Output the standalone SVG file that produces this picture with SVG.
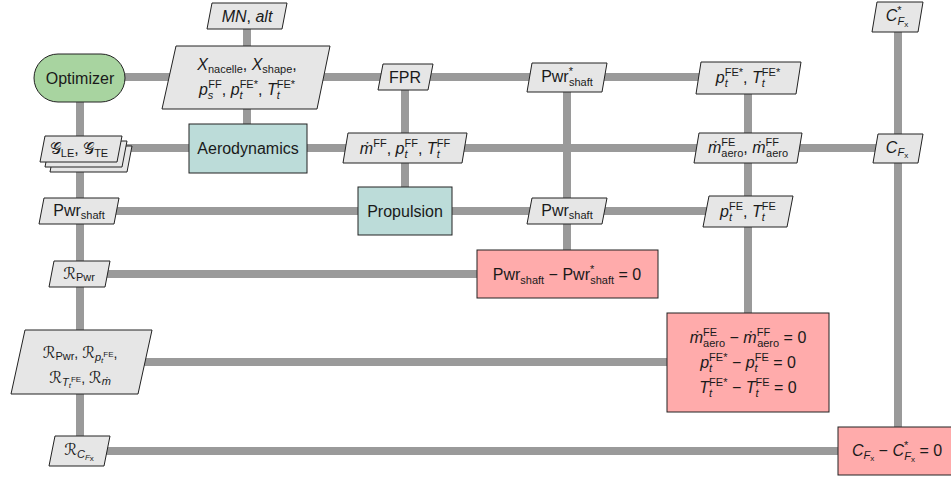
<svg xmlns="http://www.w3.org/2000/svg" width="951" height="477" viewBox="0 0 951 477">
<style>
.t{font-family:"Liberation Sans","DejaVu Sans",sans-serif;font-size:16px;fill:#1a1a1a;text-anchor:middle}
.m{font-size:14px}
.i{font-style:italic}
.sb{font-size:11px}
.ssb{font-size:8px}
.cal{font-family:"DejaVu Sans","Noto Sans",sans-serif;font-style:normal}
.m .cal{font-size:16px}
.data{fill:#e6e6e6;stroke:#222;stroke-width:1}
.opt{fill:#a8d4a0;stroke:#222;stroke-width:1}
.func{fill:#bcdcd9;stroke:#222;stroke-width:1}
.con{fill:#ffabab;stroke:#222;stroke-width:1}
.ln{stroke:#9a9a9a;stroke-width:8;fill:none}
</style>
<rect width="951" height="477" fill="#fff"/>
<g id="connectors">
<line class="ln" x1="80" y1="77" x2="748" y2="77"/>
<line class="ln" x1="80" y1="148" x2="898" y2="148"/>
<line class="ln" x1="80" y1="211" x2="748" y2="211"/>
<line class="ln" x1="80" y1="274" x2="567" y2="274"/>
<line class="ln" x1="80" y1="362" x2="748" y2="362"/>
<line class="ln" x1="80" y1="451" x2="898" y2="451"/>
<line class="ln" x1="80" y1="77" x2="80" y2="451"/>
<line class="ln" x1="247" y1="16" x2="247" y2="148"/>
<line class="ln" x1="405" y1="77" x2="405" y2="211"/>
<line class="ln" x1="567" y1="77" x2="567" y2="274"/>
<line class="ln" x1="748" y1="77" x2="748" y2="362"/>
<line class="ln" x1="898" y1="17" x2="898" y2="451"/>
</g>

<g id="optimizer">
<rect class="opt" x="34" y="54" width="91" height="48" rx="24" ry="24"/>
<text class="t" x="80" y="83.5">Optimizer</text>
</g>

<g id="input-mn-alt">
<polygon class="data" points="212,3 287,3 282,29 207,29"/>
<text class="t" x="247" y="21.5"><tspan class="i">MN</tspan>, <tspan class="i">alt</tspan></text>
</g>

<g id="input-cfx-star">
<polygon class="data" points="877,2 923,2 918,32 872,32"/>
<text class="t" x="897" y="21"><tspan class="i">C</tspan><tspan class="sb" dy="-7">*</tspan><tspan class="sb i" dx="-4" dy="11">F</tspan><tspan class="ssb" dy="2">x</tspan></text>
</g>

<g id="data-design-vars">
<polygon class="data" points="176,46 330,46 317,109 162,109"/>
<text class="t" x="247" y="70"><tspan class="i">X</tspan><tspan class="sb" dy="3">nacelle</tspan><tspan dy="-3">, </tspan><tspan class="i">X</tspan><tspan class="sb" dy="3">shape</tspan><tspan dy="-3">,</tspan></text>
<text class="t" x="247" y="95"><tspan class="i">p</tspan><tspan class="sb i" dy="4">s</tspan><tspan class="sb" dx="-5" dy="-11">FF</tspan><tspan dy="7">, </tspan><tspan class="i">p</tspan><tspan class="sb i" dy="4">t</tspan><tspan class="sb" dx="-3" dy="-11">FE*</tspan><tspan dy="7">, </tspan><tspan class="i">T</tspan><tspan class="sb i" dy="4">t</tspan><tspan class="sb" dx="-3" dy="-11">FE*</tspan></text>
</g>

<g id="data-fpr">
<polygon class="data" points="383,64 433,64 428,90 378,90"/>
<text class="t" x="405" y="83">FPR</text>
</g>

<g id="data-pwr-star">
<polygon class="data" points="532,63 607,63 602,92 527,92"/>
<text class="t" x="567" y="82"><tspan>Pwr</tspan><tspan class="sb" dy="-7">*</tspan><tspan class="sb" dx="-4" dy="11">shaft</tspan></text>
</g>

<g id="data-pt-tt-star">
<polygon class="data" points="701,62 801,62 796,94 696,94"/>
<text class="t" x="748" y="83"><tspan class="i">p</tspan><tspan class="sb i" dy="4">t</tspan><tspan class="sb" dx="-3" dy="-11">FE*</tspan><tspan dy="7">, </tspan><tspan class="i">T</tspan><tspan class="sb i" dy="4">t</tspan><tspan class="sb" dx="-3" dy="-11">FE*</tspan></text>
</g>

<g id="data-geometry-stack">
<polygon class="data" points="55,146 132,146 127,172 50,172"/>
<polygon class="data" points="50,141 127,141 122,167 45,167"/>
<polygon class="data" points="45,136 122,136 117,162 40,162"/>
<text class="t" x="79" y="154"><tspan class="cal">𝒢</tspan><tspan class="sb" dy="3">LE</tspan><tspan dy="-3">, </tspan><tspan class="cal">𝒢</tspan><tspan class="sb" dy="3">TE</tspan></text>
</g>

<g id="aerodynamics">
<rect class="func" x="189" y="124" width="118" height="49"/>
<text class="t" x="248" y="153.5">Aerodynamics</text>
</g>

<g id="data-ff-flow">
<polygon class="data" points="348,133 467,133 462,163 343,163"/>
<text class="t" x="405" y="154"><tspan class="i">ṁ</tspan><tspan class="sb" dy="-7">FF</tspan><tspan dy="7">, </tspan><tspan class="i">p</tspan><tspan class="sb i" dy="4">t</tspan><tspan class="sb" dx="-3" dy="-11">FF</tspan><tspan dy="7">, </tspan><tspan class="i">T</tspan><tspan class="sb i" dy="4">t</tspan><tspan class="sb" dx="-3" dy="-11">FF</tspan></text>
</g>

<g id="data-mdot-aero">
<polygon class="data" points="699,133 802,133 797,163 694,163"/>
<text class="t" x="748" y="153"><tspan class="i">ṁ</tspan><tspan class="sb" dy="-7">FE</tspan><tspan class="sb" dx="-14" dy="11">aero</tspan><tspan dy="-4">, </tspan><tspan class="i">ṁ</tspan><tspan class="sb" dy="-7">FF</tspan><tspan class="sb" dx="-13" dy="11">aero</tspan></text>
</g>

<g id="data-cfx">
<polygon class="data" points="878,134 923,134 918,163 873,163"/>
<text class="t" x="897" y="153"><tspan class="i">C</tspan><tspan class="sb i" dy="3">F</tspan><tspan class="ssb" dy="2">x</tspan></text>
</g>

<g id="data-pwr-shaft-opt">
<polygon class="data" points="44,198 119,198 114,224 39,224"/>
<text class="t" x="79" y="216"><tspan>Pwr</tspan><tspan class="sb" dy="3">shaft</tspan></text>
</g>

<g id="propulsion">
<rect class="func" x="358" y="187" width="94" height="48"/>
<text class="t" x="405" y="216.5">Propulsion</text>
</g>

<g id="data-pwr-shaft-prop">
<polygon class="data" points="532,198 607,198 602,224 527,224"/>
<text class="t" x="567" y="216"><tspan>Pwr</tspan><tspan class="sb" dy="3">shaft</tspan></text>
</g>

<g id="data-pt-tt">
<polygon class="data" points="709,196 793,196 787,227 703,227"/>
<text class="t" x="748" y="217"><tspan class="i">p</tspan><tspan class="sb i" dy="4">t</tspan><tspan class="sb" dx="-3" dy="-11">FE</tspan><tspan dy="7">, </tspan><tspan class="i">T</tspan><tspan class="sb i" dy="4">t</tspan><tspan class="sb" dx="-3" dy="-11">FE</tspan></text>
</g>

<g id="data-r-pwr">
<polygon class="data" points="54,261 110,261 105,287 49,287"/>
<text class="t m" x="79" y="279"><tspan class="cal">ℛ</tspan><tspan class="sb" dy="2">Pwr</tspan></text>
</g>

<g id="constraint-pwr">
<rect class="con" x="477" y="250" width="181" height="48"/>
<text class="t" x="567" y="279.5"><tspan>Pwr</tspan><tspan class="sb" dy="4">shaft</tspan><tspan dy="-4"> − Pwr</tspan><tspan class="sb" dy="-7">*</tspan><tspan class="sb" dx="-4" dy="11">shaft</tspan><tspan dy="-4"> = 0</tspan></text>
</g>

<g id="data-residuals">
<polygon class="data" points="25,330 152,330 138,394 11,394"/>
<text class="t m" x="80" y="358"><tspan class="cal">ℛ</tspan><tspan class="sb" dy="2">Pwr</tspan><tspan dy="-2">, </tspan><tspan class="cal">ℛ</tspan><tspan class="sb i" dy="3">p</tspan><tspan class="ssb i" dy="2">t</tspan><tspan class="ssb" dy="-6">FE</tspan><tspan dy="1">,</tspan></text>
<text class="t m" x="80" y="383"><tspan class="cal">ℛ</tspan><tspan class="sb i" dy="3">T</tspan><tspan class="ssb i" dy="2">t</tspan><tspan class="ssb" dy="-6">FE</tspan><tspan dy="1">, </tspan><tspan class="cal">ℛ</tspan><tspan class="sb i" dy="2">ṁ</tspan></text>
</g>

<g id="constraint-flow">
<rect class="con" x="667" y="313" width="162" height="99"/>
<text class="t" x="748" y="343"><tspan class="i">ṁ</tspan><tspan class="sb" dy="-7">FE</tspan><tspan class="sb" dx="-14" dy="11">aero</tspan><tspan dy="-4"> − </tspan><tspan class="i">ṁ</tspan><tspan class="sb" dy="-7">FF</tspan><tspan class="sb" dx="-13" dy="11">aero</tspan><tspan dy="-4"> = 0</tspan></text>
<text class="t" x="748" y="368"><tspan class="i">p</tspan><tspan class="sb i" dy="4">t</tspan><tspan class="sb" dx="-3" dy="-11">FE*</tspan><tspan dy="7"> − </tspan><tspan class="i">p</tspan><tspan class="sb i" dy="4">t</tspan><tspan class="sb" dx="-3" dy="-11">FE</tspan><tspan dy="7"> = 0</tspan></text>
<text class="t" x="748" y="393"><tspan class="i">T</tspan><tspan class="sb i" dy="4">t</tspan><tspan class="sb" dx="-3" dy="-11">FE*</tspan><tspan dy="7"> − </tspan><tspan class="i">T</tspan><tspan class="sb i" dy="4">t</tspan><tspan class="sb" dx="-3" dy="-11">FE</tspan><tspan dy="7"> = 0</tspan></text>
</g>

<g id="data-r-cfx">
<polygon class="data" points="55,436 110,436 104,466 49,466"/>
<text class="t m" x="79" y="455"><tspan class="cal">ℛ</tspan><tspan class="sb i" dy="3">C</tspan><tspan class="ssb i" dy="2">F</tspan><tspan class="ssb" dy="1" font-size="6">x</tspan></text>
</g>

<g id="constraint-cfx">
<rect class="con" x="838" y="427" width="122" height="48"/>
<text class="t" x="897" y="456"><tspan class="i">C</tspan><tspan class="sb i" dy="3">F</tspan><tspan class="ssb" dy="2">x</tspan><tspan dy="-5"> − </tspan><tspan class="i">C</tspan><tspan class="sb" dy="-7">*</tspan><tspan class="sb i" dx="-4" dy="11">F</tspan><tspan class="ssb" dy="2">x</tspan><tspan dy="-6"> = 0</tspan></text>
</g>
</svg>
